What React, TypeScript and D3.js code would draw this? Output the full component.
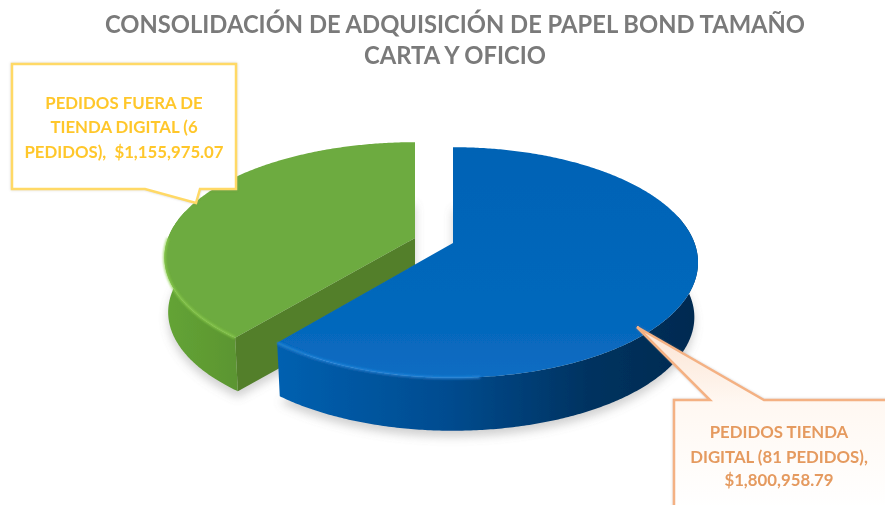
import React from 'react';
import * as d3 from 'd3';

const W = 885;
const H = 505;

const titleLines = ['CONSOLIDACIÓN DE ADQUISICIÓN DE PAPEL BOND TAMAÑO', 'CARTA Y OFICIO'];
const sliceNames = ['PEDIDOS TIENDA DIGITAL', 'PEDIDOS FUERA DE TIENDA DIGITAL'];
const sliceValues = [1800958.79, 1155975.07];
const blueLabel = ['PEDIDOS TIENDA', 'DIGITAL (81 PEDIDOS),', '$1,800,958.79'];
const greenLabel = ['PEDIDOS FUERA DE', 'TIENDA DIGITAL (6', 'PEDIDOS),  $1,155,975.07'];

const FONT = 'Lato, "Open Sans", sans-serif';

// perspective of the disc: k tilts it, S is vertical squash
const K = -0.169;
const S = 112;
const BOTTOM_SCALE = 0.985;

type Pt = [number, number];

function makeProject(cx: number, cy: number, R: number, dy: number, s: number) {
  return (a: number, r = 1): Pt => {
    const x = Math.sin(a) * r;
    const y = -Math.cos(a) * r;
    const d = 1 + K * y;
    return [cx + (s * R * x) / d, cy + dy + (s * S * y) / d];
  };
}

const line = d3.line<Pt>();

function rim(p: (a: number) => Pt, a0: number, a1: number): Pt[] {
  return d3.range(a0, a1, 0.01).concat(a1).map((a) => p(a));
}

const pie = d3.pie<number>().sort(null).value((d) => d);

const Slice = ({ arc, cx, cy, R, dy, name, sideFill, cutFill, topFill, glow, glowFrom, glowTo }: any) => {
  const top = makeProject(cx, cy, R, 0, 1);
  const bot = makeProject(cx, cy, R, dy, BOTTOM_SCALE);
  const a0 = arc.startAngle;
  const a1 = arc.endAngle;
  const apex = top(0, 0);
  const apexB = bot(0, 0);

  // only the part of the rim that faces the viewer gets a side wall
  const fr0 = Math.max(a0, Math.PI * 0.42);
  const fr1 = Math.min(a1, Math.PI * 1.58);
  const sideWall = [...rim(top, fr0, fr1), ...rim(bot, fr0, fr1).reverse()];
  const faceShape = [apex, ...rim(top, a0, a1)];
  const frontRim = rim(top, Math.max(a0, glowFrom), Math.min(a1, glowTo));

  return (
    <g data-name={name}>
      <path d={line([...rim(bot, a0, a1), apexB])! + 'Z'} fill="#999" opacity={0.45} filter="url(#shadow)" transform="translate(0,6)" />
      {cutFill && <path d={line([apex, top(a0), bot(a0), apexB])! + 'Z'} fill={cutFill} />}
      <path d={line(sideWall)! + 'Z'} fill={sideFill} />
      <path d={line(faceShape)! + 'Z'} fill={topFill} />
      <path d={line(frontRim)!} fill="none" stroke={glow} strokeWidth={2.5} opacity={0.8} filter="url(#soft)" />
    </g>
  );
};

const Callout = ({ d, stroke, lines, color, x, ys, fill }: any) => (
  <g>
    <path d={d} fill={fill} stroke={stroke} strokeWidth={2.5} filter="url(#boxShadow)" />
    {lines.map((t: string, i: number) => (
      <text key={i} x={x} y={ys[i]} textAnchor="middle" fontFamily={FONT} fontWeight={700} fontSize={16.8} fill={color} style={{ whiteSpace: 'pre' }}>
        {t}
      </text>
    ))}
  </g>
);

export default function App() {
  const arcs = pie(sliceValues);
  return (
    <svg width={W} height={H} style={{ position: 'absolute', left: 0, top: 0, background: '#fff' }}>
      <defs>
        <filter id="shadow" x="-10%" y="-10%" width="120%" height="130%"><feGaussianBlur stdDeviation="5" /></filter>
        <filter id="soft" x="-10%" y="-10%" width="120%" height="120%"><feGaussianBlur stdDeviation="1.2" /></filter>
        <filter id="wholeSoft" filterUnits="userSpaceOnUse" x="0" y="0" width={W} height={H}><feGaussianBlur stdDeviation="0.6" /></filter>
        <filter id="boxShadow" x="-5%" y="-5%" width="110%" height="110%"><feDropShadow dx="0" dy="0" stdDeviation="1.2" floodColor="#888" floodOpacity="0.4" /></filter>
        <linearGradient id="blueSide" x1="0" x2="1" y1="0" y2="0">
          <stop offset="0" stopColor="#0560b0" />
          <stop offset="0.4" stopColor="#034c90" />
          <stop offset="0.75" stopColor="#01325f" />
          <stop offset="1" stopColor="#012a50" />
        </linearGradient>
        <linearGradient id="blueTop" x1="0" x2="0" y1="0" y2="1">
          <stop offset="0" stopColor="#0563b5" />
          <stop offset="0.8" stopColor="#0668bd" />
          <stop offset="1" stopColor="#0a6dc3" />
        </linearGradient>
        <linearGradient id="greenSide" x1="0" x2="1" y1="0" y2="0">
          <stop offset="0" stopColor="#64a436" />
          <stop offset="1" stopColor="#5b9530" />
        </linearGradient>
        <linearGradient id="peach" x1="0" x2="0" y1="0" y2="1">
          <stop offset="0" stopColor="#fbe3d2" />
          <stop offset="0.42" stopColor="#fff8f2" />
          <stop offset="1" stopColor="#ffffff" />
        </linearGradient>
      </defs>

      <g filter="url(#wholeSoft)">
        {titleLines.map((t, i) => (
          <text key={i} x={455} y={i === 0 ? 33 : 64} textAnchor="middle" fontFamily={FONT} fontWeight={700} fontSize={23.75} fill="#7a7a7a">
            {t}
          </text>
        ))}

        <Slice arc={arcs[1]} cx={415} cy={238} R={247} dy={55} name={sliceNames[1]} sideFill="url(#greenSide)" cutFill="#527f2a" topFill="#6dab3f" glow="#8fd050" glowFrom={Math.PI} glowTo={Math.PI * 1.5} />
        <Slice arc={arcs[0]} cx={453} cy={243} R={241.5} dy={55} name={sliceNames[0]} sideFill="url(#blueSide)" topFill="url(#blueTop)" glow="#2a8be0" glowFrom={Math.PI * 0.97} glowTo={Math.PI * 1.5} />

        <Callout d="M12,64H236V189H200L196,203L145,189H12Z" stroke="#ffd966" fill="#fff" lines={greenLabel} color="#ffc72c" x={124} ys={[109, 133, 158]} />
        <Callout d="M674,400H710L637,327L764,400H890V510H674Z" stroke="#f4b183" fill="url(#peach)" lines={blueLabel} color="#e59a5f" x={779} ys={[438, 463, 486]} />
      </g>
    </svg>
  );
}
